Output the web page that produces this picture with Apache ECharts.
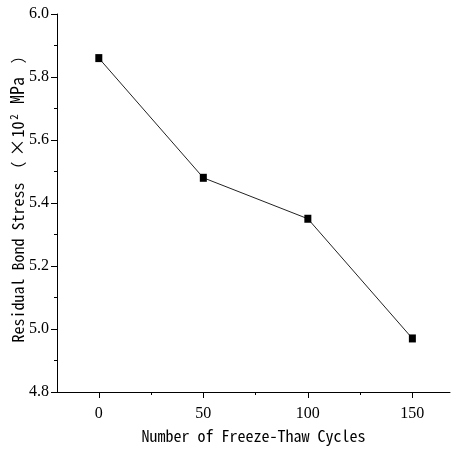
<!DOCTYPE html>
<html><head><meta charset="utf-8">
<script src="https://cdn.jsdelivr.net/npm/echarts@6/dist/echarts.min.js"></script>
<style>html,body{margin:0;padding:0;background:#fff}#c{width:451px;height:449px}</style>
</head><body><div id="c"></div>
<script>
const cycles = [0, 50, 100, 150];
const stress = [5.86, 5.48, 5.35, 4.97];
const xTicks = [0, 50, 100, 150];
const xMinorTicks = [25, 75, 125];
const xTitle = 'Number of Freeze-Thaw Cycles';
const yTitleParts = ['Residual Bond Stress', '（', '×', '10', '2', 'MPa', '）'];

const monoFont = "Noto Sans Mono CJK SC, Liberation Mono, monospace";
const serifFont = "Times New Roman, Liberation Serif, serif";
const yRich = {
  e: {fontSize: 16, width: 20},
  a: {fontFamily: monoFont, fontSize: 16, color: '#000'},
  p: {fontFamily: monoFont, fontSize: 16, color: '#000', width: 26, align: 'center'},
  x: {fontFamily: monoFont, fontSize: 18, color: '#000', width: 18, align: 'center'},
  t: {fontFamily: monoFont, fontSize: 16, color: '#000', width: 18, align: 'center'},
  s: {fontFamily: monoFont, fontSize: 11, color: '#000', width: 7, verticalAlign: 'top', padding: [0, 0, 8, 0]},
  m: {fontFamily: monoFont, fontSize: 18, color: '#000', width: 46, align: 'center'},
  q: {fontFamily: monoFont, fontSize: 16, color: '#000', width: 24, align: 'center'}
};
const yName = '{e| }{a|' + yTitleParts[0] + '}{p|' + yTitleParts[1] + '}{x|' + yTitleParts[2] + '}{t|' +
  yTitleParts[3] + '}{s|' + yTitleParts[4] + '}{m|' + yTitleParts[5] + '}{q|' + yTitleParts[6] + '}';

const chart = echarts.init(document.getElementById('c'), null, {renderer: 'canvas'});
chart.setOption({
  animation: false,
  grid: {left: 57, right: 1, top: 14, bottom: 57, containLabel: false, outerBoundsMode: 'none'},
  xAxis: [{
    type: 'value', min: -20, max: 168,
    axisLine: {onZero: false, lineStyle: {color: '#000', width: 1}},
    axisTick: {show: true, customValues: xTicks, length: 6, lineStyle: {color: '#000'}},
    axisLabel: {customValues: xTicks, color: '#000', fontFamily: serifFont, fontSize: 16, margin: 14},
    splitLine: {show: false},
    name: xTitle, nameLocation: 'middle', nameGap: 36, nameMoveOverlap: false,
    nameTextStyle: {fontFamily: monoFont, fontSize: 16, color: '#000'}
  }, {
    type: 'value', min: -20, max: 168, position: 'bottom',
    axisLine: {show: false, onZero: false},
    axisTick: {show: true, customValues: xMinorTicks, length: 3, lineStyle: {color: '#000'}},
    axisLabel: {show: false},
    splitLine: {show: false}
  }],
  yAxis: {
    type: 'value', min: 4.8, max: 6.0, interval: 0.2,
    axisLine: {show: true, onZero: false, lineStyle: {color: '#000', width: 1}},
    axisTick: {show: true, length: 6, lineStyle: {color: '#000'}},
    minorTick: {show: true, splitNumber: 2, length: 3, lineStyle: {color: '#000'}},
    axisLabel: {color: '#000', fontFamily: serifFont, fontSize: 16, margin: 8, formatter: v => v.toFixed(1)},
    splitLine: {show: false},
    name: yName,
    nameLocation: 'middle', nameGap: 30, nameRotate: 90, nameMoveOverlap: false,
    nameTextStyle: {color: '#000', rich: yRich}
  },
  series: [{
    type: 'line', xAxisIndex: 0,
    data: cycles.map((c, i) => [c, stress[i]]),
    symbol: 'rect', symbolSize: [7, 8],
    itemStyle: {color: '#000'},
    lineStyle: {color: '#222', width: 1}
  }]
});
</script></body></html>
